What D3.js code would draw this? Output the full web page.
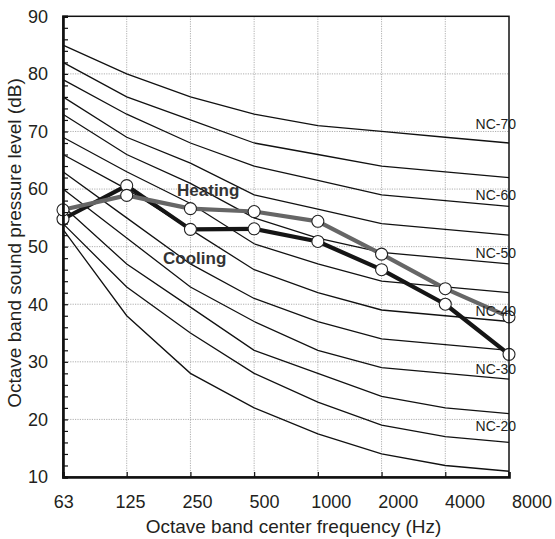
<!DOCTYPE html>
<html>

<head>
    <meta charset="utf-8">
    <style>
        body { margin: 0; background: #fff; }
        svg { display: block; font-family: "Liberation Sans", Arial, sans-serif; }
        .grid line { stroke: #8c8c8c; stroke-width: .7; stroke-dasharray: 1.2, 1.2; }
        .nc { fill: none; stroke: #111; stroke-width: 1.3; }
        .tick text { fill: #231f20; }
    </style>
    <script src="https://cdnjs.cloudflare.com/ajax/libs/d3/7.8.5/d3.min.js"></script>
    <title>NC curves</title>
</head>

<body>
    <script>
        const width = 555;
        const height = 539;

        // octave band centre frequencies (Hz)
        const freqs = ["63", "125", "250", "500", "1000", "2000", "4000", "8000"];

        // NC curves
        const nc70 = [85, 80, 76, 73, 71, 70, 69, 68];
        const nc65 = [82, 76, 72, 68, 66, 64, 63, 62];
        const nc60 = [79, 73, 68, 64, 61.5, 59, 58, 57];
        const nc55 = [76, 69, 64.5, 59, 56.5, 54, 53, 52];
        const nc50 = [73, 66, 61, 55, 51.5, 49, 48, 47];
        const nc45 = [69, 63, 57.5, 50.5, 47, 44, 43, 42];
        const nc40 = [66, 60, 53, 46, 42, 39, 38, 37];
        const nc35 = [63, 55, 47, 41, 37, 34, 33, 32];
        const nc30 = [60, 51.5, 43, 37, 32, 29, 28, 27];
        const nc25 = [57, 47, 39.5, 32, 28, 24, 22, 21];
        const nc20 = [54, 43, 35, 28, 23, 19, 17, 16];
        const nc15 = [53, 38, 28, 22, 17.5, 14, 12, 11];
        const ncCurves = [nc70, nc65, nc60, nc55, nc50, nc45, nc40, nc35, nc30, nc25, nc20, nc15];

        const ncLabels = ["NC-70", "NC-60", "NC-50", "NC-40", "NC-30", "NC-20"];
        const ncLabelLevels = [71.3, 59, 48.9, 38.8, 28.8, 18.8];

        // measured spectra (dB)
        const cooling = [54.8, 60.6, 53.0, 53.1, 50.9, 46.0, 40.0, 31.3];
        const heating = [56.4, 58.9, 56.6, 56.1, 54.4, 48.7, 42.7, 37.8];

        const yTicks = d3.range(10, 91, 2);

        const margin = { top: 16.3, right: 46, bottom: 62, left: 63 };
        const plotW = width - margin.left - margin.right;
        const plotH = height - margin.top - margin.bottom;

        const svg = d3.select("body").append("svg")
            .attr("width", width).attr("height", height);

        const g = svg.append("g")
            .attr("transform", `translate(${margin.left},${margin.top})`);

        const x = d3.scalePoint().domain(freqs).range([0, plotW]);
        // the frequency labels sit on a slightly wider spread than the grid
        const xLabel = d3.scalePoint().domain(freqs).range([0.7, plotW + 23]);
        const y = d3.scaleLinear().domain([10, 90]).range([plotH, 0]);

        // grid
        g.append("g").attr("class", "grid")
            .selectAll("line")
            .data(d3.range(20, 90, 10))
            .join("line")
            .attr("x1", 0).attr("x2", plotW)
            .attr("y1", d => y(d)).attr("y2", d => y(d));

        g.append("g").attr("class", "grid")
            .selectAll("line")
            .data(freqs.slice(1, -1))
            .join("line")
            .attr("x1", d => x(d)).attr("x2", d => x(d))
            .attr("y1", 0).attr("y2", plotH);

        // NC curves
        const line = d3.line()
            .x((d, i) => x(freqs[i]))
            .y(d => y(d));

        g.append("g")
            .selectAll("path")
            .data(ncCurves)
            .join("path")
            .attr("class", "nc")
            .attr("d", line);

        // measured spectra
        const series = [
            { values: cooling, color: "#151515" },
            { values: heating, color: "#666666" }
        ];

        g.selectAll("path.series")
            .data(series)
            .join("path")
            .attr("class", "series")
            .attr("fill", "none")
            .attr("stroke", d => d.color)
            .attr("stroke-width", 4.2)
            .attr("stroke-linejoin", "round")
            .attr("d", d => line(d.values));

        series.forEach(s => {
            g.append("g")
                .selectAll("circle")
                .data(s.values)
                .join("circle")
                .attr("cx", (d, i) => x(freqs[i]))
                .attr("cy", d => y(d))
                .attr("r", 6)
                .attr("fill", "#fff")
                .attr("stroke", "#222")
                .attr("stroke-width", 1.1);
        });

        // annotations
        g.append("text")
            .attr("x", x("125") + 0.79 * x.step())
            .attr("y", y(58.8))
            .attr("font-size", 17).attr("font-weight", "bold")
            .attr("fill", "#333")
            .text("Heating");

        g.append("text")
            .attr("x", x("125") + 0.57 * x.step())
            .attr("y", y(47))
            .attr("font-size", 17).attr("font-weight", "bold")
            .attr("fill", "#333")
            .text("Cooling");

        // NC labels
        g.append("g")
            .selectAll("text")
            .data(ncLabels)
            .join("text")
            .attr("x", x("8000") + 7)
            .attr("y", (d, i) => y(ncLabelLevels[i]))
            .attr("dy", "0.35em")
            .attr("text-anchor", "end")
            .attr("font-size", 14)
            .attr("fill", "#231f20")
            .text(d => d);

        // frame
        g.append("rect")
            .attr("width", plotW).attr("height", plotH)
            .attr("fill", "none")
            .attr("stroke", "#111")
            .attr("stroke-width", 1.5);

        // y axis
        const yAxis = g.append("g")
            .call(d3.axisLeft(y)
                .tickValues(yTicks)
                .tickSize(-5)
                .tickPadding(15)
                .tickFormat(d => d % 10 === 0 ? d : ""));
        yAxis.select(".domain").attr("stroke", "#111").attr("stroke-width", 2.6);
        yAxis.selectAll(".tick line").attr("stroke", "#111").attr("stroke-width", 1.2);
        yAxis.selectAll(".tick text").attr("font-size", 18).attr("font-family", null);

        // x axis
        const xAxis = g.append("g")
            .attr("transform", `translate(0,${plotH})`)
            .call(d3.axisBottom(x).tickSize(-5).tickFormat(""));
        xAxis.select(".domain").attr("stroke", "#111").attr("stroke-width", 2.6);
        xAxis.selectAll(".tick line").attr("stroke", "#111").attr("stroke-width", 1.2);

        g.append("g")
            .selectAll("text")
            .data(freqs)
            .join("text")
            .attr("x", d => xLabel(d))
            .attr("y", plotH + 18)
            .attr("dy", "0.71em")
            .attr("text-anchor", "middle")
            .attr("font-size", 18)
            .attr("fill", "#231f20")
            .text(d => d);

        // axis titles
        svg.append("text")
            .attr("x", 293.5)
            .attr("y", 533)
            .attr("text-anchor", "middle")
            .attr("font-size", 19)
            .attr("fill", "#231f20")
            .text("Octave band center frequency (Hz)");

        svg.append("text")
            .attr("transform", "translate(21,243) rotate(-90)")
            .attr("text-anchor", "middle")
            .attr("font-size", 19)
            .attr("fill", "#231f20")
            .text("Octave band sound pressure level (dB)");
    </script>
</body>

</html>
